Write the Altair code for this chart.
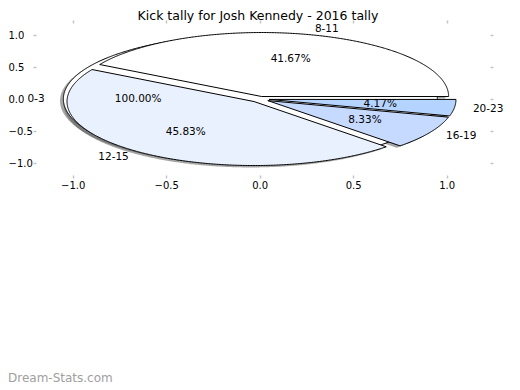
import altair as alt
import numpy as np
import pandas as pd

# ---- data ----
title_text = "Kick tally for Josh Kennedy - 2016 tally"
categories = ["8-11", "12-15", "16-19", "20-23"]
counts = [10, 11, 2, 1]
full_category = "0-3"          # drawn as a full (100%) wedge behind the others
full_share = 100.0
xticks = [-1.0, -0.5, 0.0, 0.5, 1.0]
yticks = [-1.0, -0.5, 0.0, 0.5, 1.0]
watermark = "Dream-Stats.com"

# ---- styles ----
explode = [0.04, 0.05, 0.05, 0.05]
full_explode = 0.05
colors = ["#ffffff", "#eaf1fe", "#c6d9fe", "#b4d3fe"]
full_color = "#ffffff"
FONT = "DejaVu Sans"
X_DOMAIN = [-1.1963, 1.2315]
Y_DOMAIN = [-1.1875, 1.1875]
SHADOW = (-0.018, -0.03)


def wedge_rows(name, t1, t2, cx, cy, full=False):
    n = max(int(abs(t2 - t1) * 2), 4)
    ts = np.radians(np.linspace(t1, t2, n + 1))
    xs = list(cx + np.cos(ts))
    ys = list(cy + np.sin(ts))
    if not full:
        xs = [cx] + xs + [cx]
        ys = [cy] + ys + [cy]
    return pd.DataFrame({"w": name, "i": range(len(xs)), "x": xs, "y": ys})


total = float(sum(counts))
wedges = []   # (name, df, color)
cat_labels = []
pct_labels = []

# full wedge 0-3
m = 180.0
cx, cy = full_explode * np.cos(np.radians(m)), full_explode * np.sin(np.radians(m))
wedges.append((full_category, wedge_rows(full_category, 0, 360, cx, cy, full=True), full_color))
cat_labels.append({"t": full_category, "x": cx + 1.1 * np.cos(np.radians(m)), "y": cy + 1.1 * np.sin(np.radians(m))})
pct_labels.append({"t": f"{full_share:.2f}%", "x": cx + 0.6 * np.cos(np.radians(m)), "y": cy + 0.6 * np.sin(np.radians(m))})

start = 0.0
for cat, c, e, col in zip(categories, counts, explode, colors):
    span = 360.0 * c / total
    t1, t2 = start, start + span
    m = np.radians((t1 + t2) / 2)
    cx, cy = e * np.cos(m), e * np.sin(m)
    wedges.append((cat, wedge_rows(cat, t1, t2, cx, cy), col))
    cat_labels.append({"t": cat, "x": cx + 1.1 * np.cos(m), "y": cy + 1.1 * np.sin(m)})
    pct_labels.append({"t": f"{100.0 * c / total:.2f}%", "x": cx + 0.6 * np.cos(m), "y": cy + 0.6 * np.sin(m)})
    start = t2

cat_df = pd.DataFrame(cat_labels)
pct_df = pd.DataFrame(pct_labels)
shadow_df = pd.concat([d for _, d, _ in wedges], ignore_index=True)
shadow_df["x"] = shadow_df["x"] + SHADOW[0]
shadow_df["y"] = shadow_df["y"] + SHADOW[1]

xs = alt.Scale(domain=X_DOMAIN, nice=False, zero=False)
ys = alt.Scale(domain=Y_DOMAIN, nice=False, zero=False)
tick_style = dict(domain=False, grid=False, tickColor="#c4c4c4", tickWidth=1.5, tickSize=3,
                  labelFont=FONT, labelFontSize=10, labelColor="black", title=None)

x_bottom = alt.Axis(orient="bottom", values=xticks, format=".1f", labelPadding=2, **tick_style)
x_top = alt.Axis(orient="top", values=xticks, labels=False, **tick_style)
y_left = alt.Axis(orient="left", values=yticks, format=".1f", labelAlign="left", labelPadding=25, **tick_style)
y_right = alt.Axis(orient="right", values=yticks, labels=False, **tick_style)

layers = []
shadow = alt.Chart(shadow_df).mark_line(
    fill="#4d4d4d", fillOpacity=0.5, strokeOpacity=0
).encode(
    x=alt.X("x:Q", scale=xs, axis=x_bottom),
    y=alt.Y("y:Q", scale=ys, axis=y_left),
    detail="w:N",
    order="i:Q",
)
layers.append(shadow)

for k, (name, d, col) in enumerate(wedges):
    layers.append(
        alt.Chart(d).mark_line(fill=col, stroke="black", strokeWidth=1, strokeJoin="miter").encode(
            x=alt.X("x:Q", scale=xs, axis=x_top if k == 0 else None),
            y=alt.Y("y:Q", scale=ys, axis=y_right if k == 0 else None),
            order="i:Q",
        )
    )

for align, sel in (("left", cat_df["x"] > 0), ("right", cat_df["x"] <= 0)):
    layers.append(
        alt.Chart(cat_df[sel]).mark_text(align=align, baseline="middle", font=FONT, fontSize=10.5, color="black").encode(
            x=alt.X("x:Q", scale=xs, axis=None), y=alt.Y("y:Q", scale=ys, axis=None), text="t:N"
        )
    )

layers.append(
    alt.Chart(pct_df).mark_text(align="center", baseline="middle", font=FONT, fontSize=10.5, color="black").encode(
        x=alt.X("x:Q", scale=xs, axis=None), y=alt.Y("y:Q", scale=ys, axis=None), text="t:N"
    )
)

layers.append(
    alt.Chart(pd.DataFrame({"t": [title_text]})).mark_text(
        align="center", baseline="alphabetic", font=FONT, fontSize=12.5, color="black"
    ).encode(x=alt.value(222), y=alt.value(-3.3), text="t:N")
)
layers.append(
    alt.Chart(pd.DataFrame({"t": [watermark]})).mark_text(
        align="left", baseline="alphabetic", font=FONT, fontSize=12, color="#a0a0a0"
    ).encode(x=alt.value(-28), y=alt.value(359), text="t:N")
)

chart = alt.layer(*layers).resolve_axis(x="independent", y="independent").properties(
    width=454, height=152,
    autosize=alt.AutoSizeParams(type="none"),
    padding={"left": 28, "top": 15, "right": 22, "bottom": 212},
    background="white",
).configure_view(stroke=None)

chart.save("out.html", embed_options={"renderer": "svg", "actions": False})
